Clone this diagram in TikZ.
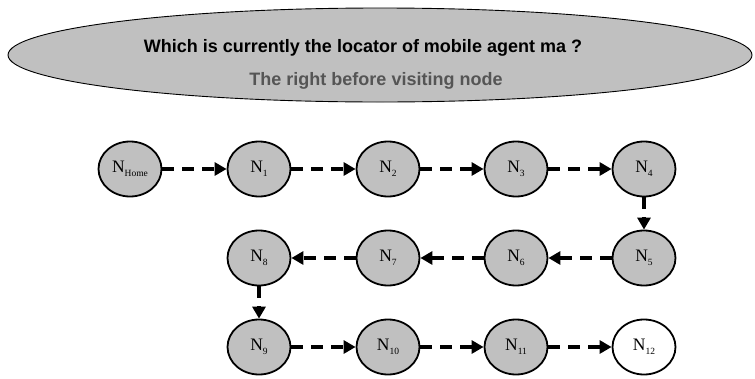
\documentclass[tikz,border=0pt]{standalone}
\usepackage{fontspec}
\setmainfont{Liberation Serif}
\newfontfamily\arialfont{Liberation Sans}
\usetikzlibrary{arrows.meta,shapes.geometric}
\definecolor{nodegray}{HTML}{C0C0C0}
\definecolor{textgray}{HTML}{555555}
\newcommand{\lsub}[1]{\raisebox{-0.5ex}{\fontsize{9.5}{9.5}\selectfont #1}}
\begin{document}
\begin{tikzpicture}[x=1pt,y=-1pt,
  loc/.style={ellipse,draw,line width=1.8pt,fill=nodegray,minimum width=63pt,minimum height=55pt,inner sep=0pt,font=\fontsize{17.5}{17.5}\selectfont},
  hop/.style={line width=4pt,dash pattern=on 12pt off 8pt,-{Triangle[length=12pt,width=13pt]}},
  qtext/.style={font=\arialfont\bfseries\fontsize{18}{18}\selectfont,inner sep=0pt}]
\useasboundingbox (0,0) rectangle (755,378);
\node[ellipse,draw,line width=0.9pt,fill=nodegray,minimum width=744pt,minimum height=94pt,inner sep=0pt] (cloud) at (380,55) {};
\node[qtext] (q) at (363,48) {Which is currently the locator of mobile agent ma ?};
\node[qtext,text=textgray] (a) at (376,81) {The right before visiting node};
\node[loc] (h) at (130,169) {N\lsub{Home}};
\node[loc] (n1) at (259,169) {N\lsub{1}};
\node[loc] (n2) at (388,169) {N\lsub{2}};
\node[loc] (n3) at (516,169) {N\lsub{3}};
\node[loc] (n4) at (644,169) {N\lsub{4}};
\node[loc] (n5) at (644,258) {N\lsub{5}};
\node[loc] (n6) at (516,258) {N\lsub{6}};
\node[loc] (n7) at (388,258) {N\lsub{7}};
\node[loc] (n8) at (259,258) {N\lsub{8}};
\node[loc] (n9) at (259,347) {N\lsub{9}};
\node[loc] (n10) at (388,347) {N\lsub{10}};
\node[loc] (n11) at (516,347) {N\lsub{11}};
\node[loc,fill=white] (n12) at (644,347) {N\lsub{12}};
\draw[hop] (h) -- (n1);
\draw[hop] (n1) -- (n2);
\draw[hop] (n2) -- (n3);
\draw[hop] (n3) -- (n4);
\draw[hop] (n4) -- (n5);
\draw[hop] (n5) -- (n6);
\draw[hop] (n6) -- (n7);
\draw[hop] (n7) -- (n8);
\draw[hop] (n8) -- (n9);
\draw[hop] (n9) -- (n10);
\draw[hop] (n10) -- (n11);
\draw[hop] (n11) -- (n12);
\end{tikzpicture}
\end{document}
